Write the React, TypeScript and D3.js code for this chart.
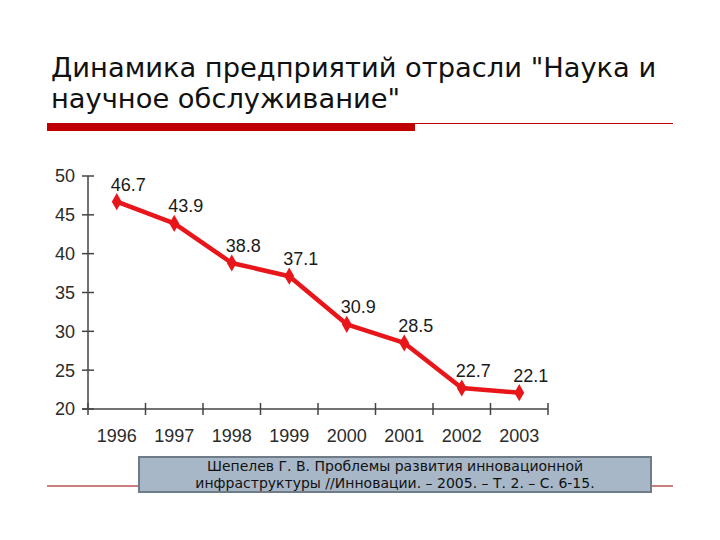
import * as d3 from 'd3'

const years = ['1996', '1997', '1998', '1999', '2000', '2001', '2002', '2003']
const values = [46.7, 43.9, 38.8, 37.1, 30.9, 28.5, 22.7, 22.1]
const yTicks = [20, 25, 30, 35, 40, 45, 50]
const titleLines = ['Динамика предприятий отрасли "Наука и', 'научное обслуживание"']
const sourceLines = [
  'Шепелев Г. В. Проблемы развития инновационной',
  'инфраструктуры //Инновации. – 2005. – Т. 2. – С. 6-15.',
]

const W = 720
const H = 540
const plot = { left: 88, right: 548, top: 176, bottom: 409 }

export default function App() {
  const x = d3.scaleBand<string>().domain(years).range([plot.left, plot.right]).padding(0)
  const y = d3.scaleLinear().domain([20, 50]).range([plot.bottom, plot.top])
  const cx = (yr: string) => (x(yr) ?? 0) + x.bandwidth() / 2

  const line = d3.line<number>()
    .x((_, i) => cx(years[i]))
    .y(d => y(d))

  const boundaries = [...years.map(yr => x(yr) ?? 0), plot.right]
  const diamond = d3.symbol(d3.symbolDiamond, 85)()

  const sans = 'Liberation Sans, Arial, sans-serif'
  const titleFont = '"DejaVu Sans", Verdana, sans-serif'

  return (
    <svg width={W} height={H} style={{ position: 'absolute', left: 0, top: 0, background: '#fff' }}>
      {/* title */}
      {titleLines.map((t, i) => (
        <text key={t} x={51} y={77 + i * 31} fontFamily={titleFont} fontSize={27.3} fill="#111">
          {t}
        </text>
      ))}
      <line x1={415} x2={673} y1={123.5} y2={123.5} stroke="#c00000" strokeWidth={1} />
      <rect x={47} y={123} width={368} height={8} fill="#c00000" />

      {/* y axis */}
      <line x1={plot.left} x2={plot.left} y1={plot.top} y2={plot.bottom} stroke="#444" strokeWidth={1.5} />
      {yTicks.map(t => (
        <g key={t}>
          <line x1={plot.left - 6} x2={plot.left + 6} y1={y(t)} y2={y(t)} stroke="#444" strokeWidth={1.5} />
          <text x={plot.left - 13} y={y(t)} dy="0.36em" textAnchor="end" fontFamily={sans} fontSize={18} fill="#2b2b2b">
            {t}
          </text>
        </g>
      ))}

      {/* x axis */}
      <line x1={plot.left - 6} x2={plot.right} y1={plot.bottom} y2={plot.bottom} stroke="#444" strokeWidth={1.5} />
      {boundaries.map((b, i) => (
        <line key={i} x1={b} x2={b} y1={plot.bottom - 6} y2={plot.bottom + 6} stroke="#444" strokeWidth={1.5} />
      ))}
      {years.map(yr => (
        <text key={yr} x={cx(yr)} y={442} textAnchor="middle" fontFamily={sans} fontSize={18} fill="#2b2b2b">
          {yr}
        </text>
      ))}

      {/* series */}
      <path d={line(values) ?? ''} fill="none" stroke="#e8161b" strokeWidth={4.5} strokeLinejoin="round" />
      {values.map((v, i) => (
        <g key={years[i]}>
          <path d={diamond ?? ''} transform={`translate(${cx(years[i])},${y(v)})`} fill="#e8161b" />
          <text x={cx(years[i]) - 6} y={y(v) - 11} fontFamily={sans} fontSize={18} fill="#1a1a1a">
            {v.toFixed(1)}
          </text>
        </g>
      ))}

      {/* bottom rule and source box */}
      <line x1={47} x2={673} y1={486} y2={486} stroke="#c97f7f" strokeWidth={2} />
      <rect x={139} y={457} width={512} height={35} fill="#a7b7c7" stroke="#6f7b86" strokeWidth={2} />
      {sourceLines.map((t, i) => (
        <text key={t} x={395} y={471 + i * 17} textAnchor="middle" fontFamily={titleFont} fontSize={14} fill="#111">
          {t}
        </text>
      ))}
    </svg>
  )
}
